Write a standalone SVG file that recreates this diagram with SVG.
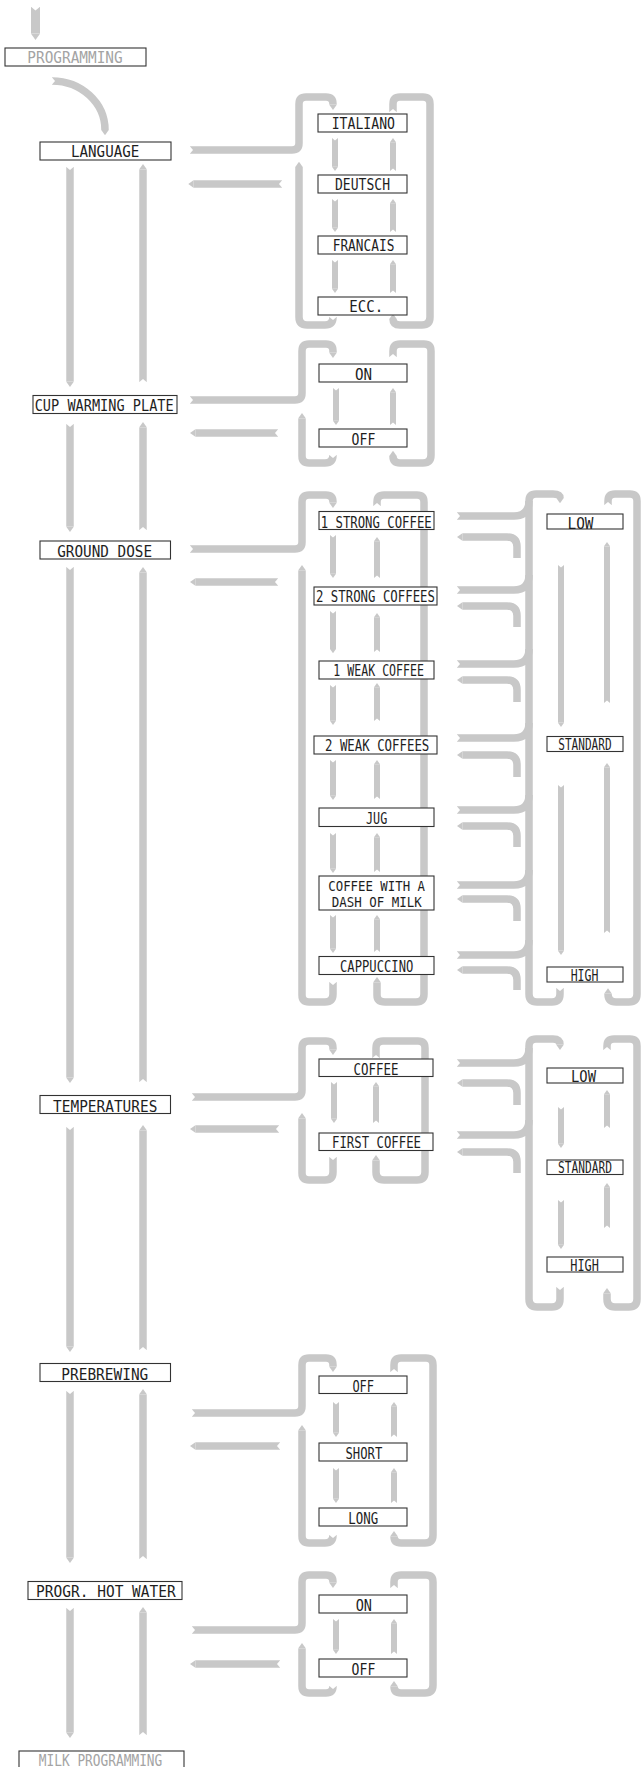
<svg xmlns="http://www.w3.org/2000/svg" width="641" height="1767" viewBox="0 0 641 1767">
<defs>
<marker id="tip" viewBox="0 -0.5 0.7 1" refX="0" refY="0" markerWidth="0.7" markerHeight="1" orient="auto" markerUnits="strokeWidth"><path d="M0,-0.5L0.7,0L0,0.5Z" fill="#c8c8c8"/></marker>
<marker id="notch" viewBox="-0.1 -0.6 0.6 1.2" refX="0" refY="0" markerWidth="0.6" markerHeight="1.2" orient="auto" markerUnits="strokeWidth"><path d="M-0.1,-0.6L0.4,0L-0.1,0.6Z" fill="#fff"/></marker>
<style>
.a{fill:none;stroke:#c8c8c8;stroke-width:7.5;marker-start:url(#notch);marker-end:url(#tip)}
.n{fill:none;stroke:#c8c8c8;stroke-width:7.5;marker-start:url(#notch)}
.e{fill:none;stroke:#c8c8c8;stroke-width:7.5;marker-end:url(#tip)}
.sm{stroke-width:6}
.bx{fill:#fff;stroke:#333;stroke-width:1.1}
.t{font-family:"DejaVu Sans Mono","Liberation Mono",monospace;font-size:16.2px;fill:#1e1e1e}
.ts{font-size:15px}
.td{font-size:13.8px}
.g{fill:#a4a4a4}
</style>
</defs>
<rect width="641" height="1767" fill="#fff"/>
<g id="connectors">
<path class="a" style="stroke-width:9" d="M35.5,7V33.7"/>
<path class="a" d="M52,81A53,49 0 0 1 105,130"/>
<path class="a" d="M70,167V381.75"/>
<path class="a" d="M143,382V169.25"/>
<path class="a" d="M70,424V526.75"/>
<path class="a" d="M143,530V427.25"/>
<path class="a" d="M70,567V1077.75"/>
<path class="a" d="M143,1082V572.25"/>
<path class="a" d="M70,1127V1346.75"/>
<path class="a" d="M143,1350V1130.25"/>
<path class="a" d="M70,1391V1557.75"/>
<path class="a" d="M143,1559V1394.25"/>
<path class="a" d="M70,1608V1732.75"/>
<path class="a" d="M143,1735V1612.25"/>
<!-- language -->
<path class="a" d="M190,150H292Q299,150 299,143V104Q299,97 306,97H326Q333,97 333,104V104.75"/>
<path class="a" d="M282,184H193.5"/>
<path class="a" d="M333,317Q333,325 325,325H307Q299,325 299,317V167"/>
<path class="a" d="M393,112V104Q393,97 400,97H423Q430,97 430,104V317Q430,325 422,325H400Q393,325 393,319"/>
<path class="a sm" d="M335,138V166.8"/>
<path class="a sm" d="M393,171V142.2"/>
<path class="a sm" d="M335,199V227.8"/>
<path class="a sm" d="M393,232V203.2"/>
<path class="a sm" d="M335,260V288.8"/>
<path class="a sm" d="M393,293V264.2"/>
<!-- cup -->
<path class="a" d="M190,400H295Q302,400 302,393V351Q302,344 309,344H326Q333,344 333,351V352.75"/>
<path class="a" d="M278,433H195.25"/>
<path class="a" d="M333,455Q333,463 325,463H309Q302,463 302,456V418.25"/>
<path class="a" d="M393,357V351Q393,344 400,344H424Q431,344 431,351V455Q431,463 423,463H400Q393,463 393,456"/>
<path class="a sm" d="M336,388V420.8"/>
<path class="a sm" d="M393,425V392.2"/>
<!-- ground dose -->
<path class="a" d="M190,549H295Q302,549 302,542V502Q302,495 309,495H326Q333,495 333,502V502.75"/>
<path class="a" d="M278,582H195.25"/>
<path class="a" d="M333,982V994Q333,1002 325,1002H309Q302,1002 302,995V570.25"/>
<path class="a" d="M377,506V502Q377,495 384,495H417Q424,495 424,502V994Q424,1002 416,1002H385Q377,1002 377,995V982.25"/>
<path class="a sm" d="M333,535V573.8"/>
<path class="a sm" d="M377,578V541.2"/>
<path class="a sm" d="M333,611V649"/>
<path class="a sm" d="M377,652V617.2"/>
<path class="a sm" d="M333,685V720.8"/>
<path class="a sm" d="M377,721V687.2"/>
<path class="a sm" d="M333,760V795.8"/>
<path class="a sm" d="M377,799V764.2"/>
<path class="a sm" d="M333,833V868.8"/>
<path class="a sm" d="M377,872V837.2"/>
<path class="a sm" d="M333,915V948.8"/>
<path class="a sm" d="M377,952V919.2"/>
<path class="n" d="M457,516H514Q529,516 529,501"/>
<path class="n" d="M457,590H514Q529,590 529,575"/>
<path class="n" d="M457,664H514Q529,664 529,649"/>
<path class="n" d="M457,738H514Q529,738 529,723"/>
<path class="n" d="M457,810H514Q529,810 529,795"/>
<path class="n" d="M457,885H514Q529,885 529,870"/>
<path class="n" d="M457,955H514Q529,955 529,940"/>
<path class="e" d="M517,558V547Q517,537 507,537H462.25"/>
<path class="e" d="M517,627V616Q517,606 507,606H462.25"/>
<path class="e" d="M517,702V690Q517,680 507,680H462.25"/>
<path class="e" d="M517,777V765Q517,755 507,755H462.25"/>
<path class="e" d="M517,847V836Q517,826 507,826H462.25"/>
<path class="e" d="M517,921V909Q517,899 507,899H462.25"/>
<path class="e" d="M517,990V980Q517,970 507,970H462.25"/>
<path class="a" d="M560,988V994Q560,1002 552,1002H537Q529,1002 529,994V501Q529,494 536,494H553Q560,494 560,498"/>
<path class="a" d="M608,505V501Q608,494 615,494H630Q637,494 637,501V994Q637,1002 629,1002H616Q608,1002 608,994V993.5"/>
<path class="a sm" d="M561,565V722.8"/>
<path class="a sm" d="M607,703V546.2"/>
<path class="a sm" d="M561,785V950.8"/>
<path class="a sm" d="M607,933V767.2"/>
<!-- temperatures -->
<path class="a" d="M192,1097H295Q302,1097 302,1090V1048Q302,1041 309,1041H326Q333,1041 333,1048V1049.75"/>
<path class="a" d="M279,1129H195.25"/>
<path class="a" d="M333,1157V1172Q333,1180 325,1180H309Q302,1180 302,1173V1118.25"/>
<path class="a" d="M376,1058V1048Q376,1041 383,1041H418Q425,1041 425,1048V1172Q425,1180 417,1180H384Q376,1180 376,1172V1160.25"/>
<path class="a sm" d="M334,1082V1118.8"/>
<path class="a sm" d="M376,1123V1086.2"/>
<path class="n" d="M457,1063H514Q529,1063 529,1048"/>
<path class="n" d="M457,1135H514Q529,1135 529,1120"/>
<path class="e" d="M517,1105V1093Q517,1083 507,1083H462.25"/>
<path class="e" d="M517,1173V1162Q517,1152 507,1152H462.25"/>
<path class="a" d="M560,1287V1299Q560,1307 552,1307H537Q529,1307 529,1299V1046Q529,1039 536,1039H553Q560,1039 560,1044.75"/>
<path class="a" d="M607,1050V1046Q607,1039 614,1039H630Q637,1039 637,1046V1299Q637,1307 629,1307H615Q607,1307 607,1299V1293.25"/>
<path class="a sm" d="M561,1107V1143.8"/>
<path class="a sm" d="M607,1128V1094.2"/>
<path class="a sm" d="M561,1200V1244.8"/>
<path class="a sm" d="M607,1228V1187.2"/>
<!-- prebrewing -->
<path class="a" d="M192,1413H295Q302,1413 302,1406V1365Q302,1358 309,1358H326Q333,1358 333,1365V1366.75"/>
<path class="a" d="M280,1446H195.25"/>
<path class="a" d="M333,1535Q333,1543 325,1543H309Q302,1543 302,1536V1430.25"/>
<path class="a" d="M394,1372V1365Q394,1358 401,1358H426Q433,1358 433,1365V1535Q433,1543 425,1543H401Q394,1543 394,1536.25"/>
<path class="a sm" d="M336,1402V1432.8"/>
<path class="a sm" d="M394,1437V1406.2"/>
<path class="a sm" d="M336,1468V1498.8"/>
<path class="a sm" d="M394,1503V1472.2"/>
<!-- hot water -->
<path class="a" d="M192,1630H295Q302,1630 302,1623V1582Q302,1575 309,1575H326Q333,1575 333,1582V1582.75"/>
<path class="a" d="M280,1664H195.25"/>
<path class="a" d="M333,1686Q333,1693 326,1693H309Q302,1693 302,1686V1648.25"/>
<path class="a" d="M394,1588V1582Q394,1575 401,1575H426Q433,1575 433,1582V1685Q433,1693 425,1693H401Q394,1693 394,1686.25"/>
<path class="a sm" d="M336,1619V1649.8"/>
<path class="a sm" d="M394,1654V1623.2"/>
</g>
<g id="n-programming"><rect class="bx" x="5" y="48" width="141" height="18"/><text class="t g" x="27.3" y="63.3" textLength="95.4" lengthAdjust="spacingAndGlyphs">PROGRAMMING</text></g>
<g id="n-language"><rect class="bx" x="40" y="142" width="131" height="18"/><text class="t" x="71" y="157" textLength="68.3" lengthAdjust="spacingAndGlyphs">LANGUAGE</text></g>
<g id="n-italiano"><rect class="bx" x="318" y="114" width="89" height="18"/><text class="t" x="331.7" y="129.3" textLength="63.3" lengthAdjust="spacingAndGlyphs">ITALIANO</text></g>
<g id="n-deutsch"><rect class="bx" x="318" y="175" width="89" height="18"/><text class="t" x="335" y="189.8" textLength="55" lengthAdjust="spacingAndGlyphs">DEUTSCH</text></g>
<g id="n-francais"><rect class="bx" x="318" y="236" width="89" height="18"/><text class="t" x="332.7" y="251" textLength="61.7" lengthAdjust="spacingAndGlyphs">FRANCAIS</text></g>
<g id="n-ecc"><rect class="bx" x="318" y="297" width="89" height="18"/><text class="t" x="349.3" y="312" textLength="34" lengthAdjust="spacingAndGlyphs">ECC.</text></g>
<g id="n-cup"><rect class="bx" x="33" y="395.5" width="144" height="18"/><text class="t" x="34.7" y="411" textLength="139" lengthAdjust="spacingAndGlyphs">CUP WARMING PLATE</text></g>
<g id="n-cup-on"><rect class="bx" x="319" y="364" width="88" height="18"/><text class="t" x="354.9" y="379.8" textLength="17.1" lengthAdjust="spacingAndGlyphs">ON</text></g>
<g id="n-cup-off"><rect class="bx" x="319" y="429" width="88" height="18"/><text class="t" x="351.6" y="444.8" textLength="23.7" lengthAdjust="spacingAndGlyphs">OFF</text></g>
<g id="n-ground-dose"><rect class="bx" x="40" y="541" width="130.5" height="18"/><text class="t" x="57.2" y="556.8" textLength="94.9" lengthAdjust="spacingAndGlyphs">GROUND DOSE</text></g>
<g id="n-1-strong"><rect class="bx" x="319" y="511.5" width="115" height="18"/><text class="t" x="320.7" y="527.8" textLength="111" lengthAdjust="spacingAndGlyphs">1 STRONG COFFEE</text></g>
<g id="n-2-strong"><rect class="bx" x="314" y="587" width="123" height="18"/><text class="t" x="316" y="602.3" textLength="119" lengthAdjust="spacingAndGlyphs">2 STRONG COFFEES</text></g>
<g id="n-1-weak"><rect class="bx" x="319" y="661" width="115" height="18"/><text class="t" x="333.3" y="676.3" textLength="90.7" lengthAdjust="spacingAndGlyphs">1 WEAK COFFEE</text></g>
<g id="n-2-weak"><rect class="bx" x="314" y="736" width="123" height="18"/><text class="t" x="325" y="751.3" textLength="104.3" lengthAdjust="spacingAndGlyphs">2 WEAK COFFEES</text></g>
<g id="n-jug"><rect class="bx" x="319" y="808" width="115" height="18.5"/><text class="t" x="366" y="823.8" textLength="21.3" lengthAdjust="spacingAndGlyphs">JUG</text></g>
<g id="n-dash"><rect class="bx" x="319" y="876" width="115" height="34"/><text class="t td" x="328.3" y="890.5" textLength="96.7" lengthAdjust="spacingAndGlyphs">COFFEE WITH A</text><text class="t td" x="331.7" y="907" textLength="90" lengthAdjust="spacingAndGlyphs">DASH OF MILK</text></g>
<g id="n-cappuccino"><rect class="bx" x="319" y="956.5" width="115" height="18"/><text class="t" x="340" y="971.8" textLength="73.3" lengthAdjust="spacingAndGlyphs">CAPPUCCINO</text></g>
<g id="n-gd-low"><rect class="bx" x="547" y="514" width="76" height="15"/><text class="t ts" x="567.5" y="528.5" textLength="26" lengthAdjust="spacingAndGlyphs">LOW</text></g>
<g id="n-gd-standard"><rect class="bx" x="547" y="736.5" width="76" height="15"/><text class="t ts" x="558.3" y="749.8" textLength="53.3" lengthAdjust="spacingAndGlyphs">STANDARD</text></g>
<g id="n-gd-high"><rect class="bx" x="547" y="967" width="76" height="15"/><text class="t ts" x="570.7" y="980.8" textLength="27.7" lengthAdjust="spacingAndGlyphs">HIGH</text></g>
<g id="n-temperatures"><rect class="bx" x="40" y="1095.5" width="130.5" height="18"/><text class="t" x="53.1" y="1111.5" textLength="104.3" lengthAdjust="spacingAndGlyphs">TEMPERATURES</text></g>
<g id="n-t-coffee"><rect class="bx" x="319" y="1059" width="114" height="17.5"/><text class="t" x="353.6" y="1074.8" textLength="45" lengthAdjust="spacingAndGlyphs">COFFEE</text></g>
<g id="n-t-first"><rect class="bx" x="319" y="1133" width="114" height="17.5"/><text class="t" x="332" y="1148.3" textLength="89" lengthAdjust="spacingAndGlyphs">FIRST COFFEE</text></g>
<g id="n-t-low"><rect class="bx" x="547" y="1068" width="76" height="15"/><text class="t ts" x="571" y="1081.8" textLength="25" lengthAdjust="spacingAndGlyphs">LOW</text></g>
<g id="n-t-standard"><rect class="bx" x="547" y="1160" width="76" height="14.5"/><text class="t ts" x="558" y="1173" textLength="54" lengthAdjust="spacingAndGlyphs">STANDARD</text></g>
<g id="n-t-high"><rect class="bx" x="547" y="1257" width="76" height="15"/><text class="t ts" x="570.3" y="1270.8" textLength="28.6" lengthAdjust="spacingAndGlyphs">HIGH</text></g>
<g id="n-prebrewing"><rect class="bx" x="40" y="1363.5" width="130.5" height="18"/><text class="t" x="61.3" y="1379.8" textLength="87" lengthAdjust="spacingAndGlyphs">PREBREWING</text></g>
<g id="n-p-off"><rect class="bx" x="319" y="1376" width="88" height="17.5"/><text class="t" x="352.4" y="1391.5" textLength="21.7" lengthAdjust="spacingAndGlyphs">OFF</text></g>
<g id="n-p-short"><rect class="bx" x="319" y="1443" width="88" height="18"/><text class="t" x="345.5" y="1459" textLength="36.8" lengthAdjust="spacingAndGlyphs">SHORT</text></g>
<g id="n-p-long"><rect class="bx" x="319" y="1508" width="88" height="18"/><text class="t" x="348.3" y="1524" textLength="29.9" lengthAdjust="spacingAndGlyphs">LONG</text></g>
<g id="n-hot-water"><rect class="bx" x="28" y="1581.5" width="154" height="18"/><text class="t" x="36" y="1597" textLength="139.8" lengthAdjust="spacingAndGlyphs">PROGR. HOT WATER</text></g>
<g id="n-hw-on"><rect class="bx" x="319" y="1595" width="88" height="18"/><text class="t" x="355.7" y="1610.8" textLength="16.3" lengthAdjust="spacingAndGlyphs">ON</text></g>
<g id="n-hw-off"><rect class="bx" x="319" y="1659" width="88" height="18"/><text class="t" x="351.6" y="1675" textLength="23.7" lengthAdjust="spacingAndGlyphs">OFF</text></g>
<g id="n-milk-programming"><rect class="bx" x="19" y="1751" width="165" height="20"/><text class="t g" x="38.8" y="1765.5" textLength="123.5" lengthAdjust="spacingAndGlyphs">MILK PROGRAMMING</text></g>
</svg>
